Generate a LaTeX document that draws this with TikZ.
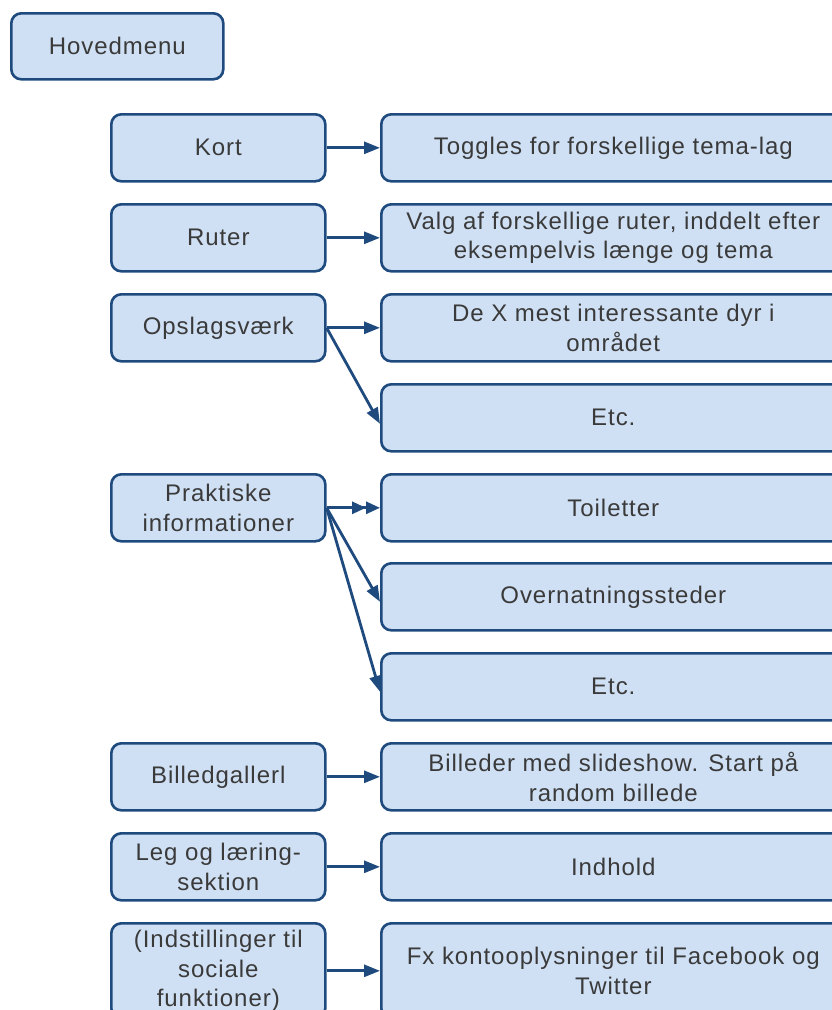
\documentclass[tikz,border=0pt]{standalone}
\usepackage{fontspec}
\setmainfont{Liberation Sans}[LetterSpace=4.0]
\usetikzlibrary{arrows.meta}
\definecolor{boxfill}{HTML}{CFE0F4}
\definecolor{boxline}{HTML}{1F4A7E}
\definecolor{txt}{HTML}{3A3A3A}
\tikzset{
  box/.style={draw=boxline, fill=boxfill, line width=2.6pt, rounded corners=10pt,
    anchor=north west, inner sep=0pt, align=center, text=txt,
    font=\fontsize{24}{29.5}\selectfont},
  lbox/.style={box, minimum width=214pt, minimum height=67pt},
  rbox/.style={box, minimum width=464pt, minimum height=67pt},
  conn/.style={draw=boxline, line width=2.8pt, -{Triangle[length=16pt,width=12pt]}},
  dconn/.style={draw=boxline, line width=2.8pt, -{Triangle[length=14pt,width=12pt]Triangle[length=14pt,width=12pt]}}
}
\begin{document}
\begin{tikzpicture}[x=1pt,y=-1pt]
\clip (0,0) rectangle (832,1010);
\fill[white] (0,0) rectangle (832,1010);
\node[box, minimum width=212pt, minimum height=66pt] (hoved) at (10,12) {Hovedmenu};

\node[lbox] (kort) at (110,113) {Kort};
\node[lbox] (ruter) at (110,203) {Ruter};
\node[lbox] (opslag) at (110,293) {Opslagsværk};
\node[lbox] (prak) at (110,473) {Praktiske\\informationer};
\node[lbox] (bill) at (110,742) {Billedgallerl};
\node[lbox] (leg) at (110,832) {Leg og læring-\\sektion};
\node[lbox, minimum height=95pt] (indst) at (110,922) {(Indstillinger til\\sociale\\funktioner)};

\node[rbox] (toggles) at (380,113) {Toggles for forskellige tema-lag};
\node[rbox] (valg) at (380,203) {Valg af forskellige ruter, inddelt efter\\eksempelvis længe og tema};
\node[rbox] (dex) at (380,293) {De X mest interessante dyr i\\området};
\node[rbox] (etca) at (380,383) {Etc.};
\node[rbox] (toil) at (380,473) {Toiletter};
\node[rbox] (overn) at (380,562) {Overnatningssteder};
\node[rbox] (etcb) at (380,652) {Etc.};
\node[rbox] (billeder) at (380,742) {Billeder med slideshow. Start på\\random billede};
\node[rbox] (indhold) at (380,832) {Indhold};
\node[rbox, minimum height=95pt] (fx) at (380,922) {Fx kontooplysninger til Facebook og\\Twitter};

\draw[conn] (kort.east) -- (toggles.west);
\draw[conn] (ruter.east) -- (valg.west);
\draw[conn] (opslag.east) -- (dex.west);
\draw[conn] (opslag.east) -- ([yshift=-6pt]etca.west);
\draw[dconn] (prak.east) -- (toil.west);
\draw[conn] (prak.east) -- ([yshift=-5pt]overn.west);
\draw[conn] (prak.east) -- ([yshift=-5pt]etcb.west);
\draw[conn] (bill.east) -- (billeder.west);
\draw[conn] (leg.east) -- (indhold.west);
\draw[conn] (indst.east) -- (fx.west);
\end{tikzpicture}
\end{document}
